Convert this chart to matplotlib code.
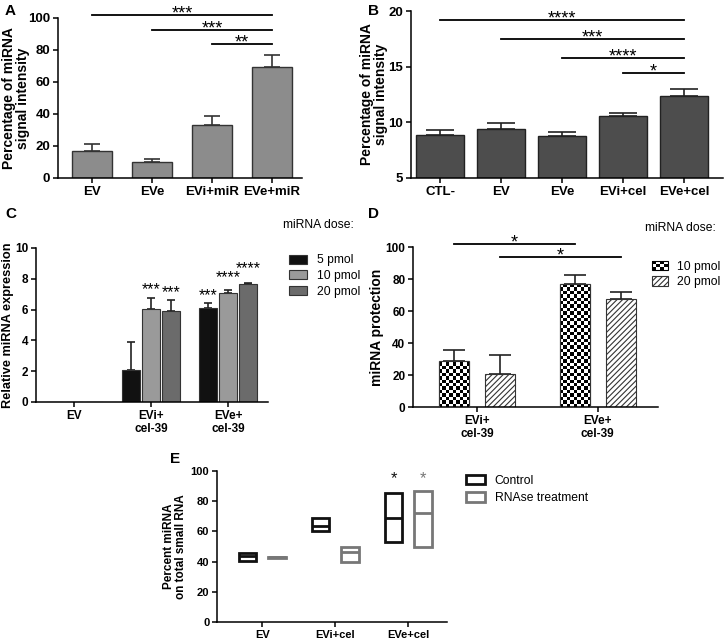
import matplotlib.pyplot as plt
import numpy as np
from matplotlib.patches import Rectangle
from matplotlib.legend_handler import HandlerBase

# panel A
a_labels = ["EV", "EVe", "EVi+miR", "EVe+miR"]
a_vals = [17, 10, 33, 69.5]
a_err = [4, 2, 5.5, 7.5]
a_sig = [(0, 3, 102, "***"), (1, 3, 92.5, "***"), (2, 3, 83.5, "**")]

# panel B
b_labels = ["CTL-", "EV", "EVe", "EVi+cel", "EVe+cel"]
b_vals = [8.9, 9.4, 8.75, 10.55, 12.35]
b_err = [0.4, 0.5, 0.35, 0.25, 0.6]
b_sig = [(0, 4, 19.2, "****"), (1, 4, 17.5, "***"), (2, 4, 15.8, "****"), (3, 4, 14.4, "*")]

# panel C
c_groups = ["EV", "EVi+\ncel-39", "EVe+\ncel-39"]
c_doses = ["5 pmol", "10 pmol", "20 pmol"]
c_vals = [[0, 0, 0], [2.1, 6.05, 5.9], [6.1, 7.1, 7.65]]
c_err = [[0, 0, 0], [1.8, 0.7, 0.75], [0.3, 0.2, 0.05]]
c_stars = [["", "", ""], ["", "***", "***"], ["***", "****", "****"]]
c_star_y = [[0, 0, 0], [0, 7.2, 7.05], [6.87, 8.0, 8.6]]

# panel D
d_groups = ["EVi+\ncel-39", "EVe+\ncel-39"]
d_doses = ["10 pmol", "20 pmol"]
d_vals = [[28.5, 20.5], [77, 67.5]]
d_err = [[7, 12], [5.5, 4.5]]
d_sig = [(0, 102, "*"), (1, 94, "*")]  # dose index, height, label

# panel E
e_groups = ["EV", "EVi+cel", "EVe+cel"]
e_series = ["Control", "RNAse treatment"]
e_min = [[40.5, 42.3], [60.5, 39.5], [53.2, 49.5]]
e_max = [[45.5, 43.3], [69.2, 49.8], [85.3, 87.0]]
e_mean = [[43.5, 42.8], [63.5, 46.2], [68.6, 71.9]]
e_stars = [["", ""], ["", ""], ["*", "*"]]

plt.rcParams['font.family'] = ['Liberation Sans', 'DejaVu Sans']
plt.rcParams['axes.linewidth'] = 1.1
plt.rcParams['hatch.linewidth'] = 0.8

W, H = 726, 639
fig = plt.figure(figsize=(W / 100, H / 100), dpi=100)


def px_axes(x0, y0, x1, y1):
    return fig.add_axes([x0 / W, 1 - y1 / H, (x1 - x0) / W, (y1 - y0) / H])


def style(ax, fs, ylabel, lab_fs, lab_x):
    ax.spines[["top", "right"]].set_visible(False)
    ax.tick_params(direction="out", length=3.5, width=1.1, labelsize=fs, pad=2)
    for t in ax.get_xticklabels() + ax.get_yticklabels():
        t.set_fontweight("bold")
    ax.set_ylabel(ylabel, fontsize=lab_fs, fontweight="bold", linespacing=1.0)
    ax.yaxis.set_label_coords(lab_x, 0.5)


def star(ax, x, y, label, fs=13, color="black"):
    ax.annotate(label, (x, y), xytext=(0, -2.5), textcoords="offset points", ha="center",
                va="baseline", fontsize=fs, color=color, annotation_clip=False)


def sig_line(ax, x0, x1, y, label, fs=13):
    ax.plot([x0, x1], [y, y], color="black", lw=1.3, clip_on=False)
    star(ax, (x0 + x1) / 2, y, label, fs)


def upper_err(ax, x, v, e, capsize, color="#222222"):
    x, v, e = np.asarray(x), np.asarray(v), np.asarray(e)
    keep = e > 0
    ax.errorbar(x[keep], v[keep], yerr=[np.zeros(keep.sum()), e[keep]], fmt="none",
                ecolor=color, elinewidth=1.2, capsize=capsize, capthick=1.2, zorder=1)


class CheckerHandler(HandlerBase):
    def create_artists(self, legend, orig_handle, xdescent, ydescent, width, height, fontsize, trans):
        arts = []
        nx, ny = 4, 3
        w, h = width / nx, height / ny
        for i in range(nx):
            for j in range(ny):
                if (i + j) % 2 == 0:
                    arts.append(Rectangle((-xdescent + i * w, -ydescent + j * h), w, h,
                                          facecolor="black", edgecolor="none", transform=trans))
        arts.append(Rectangle((-xdescent, -ydescent), width, height, facecolor="none",
                              edgecolor="black", lw=0.8, transform=trans))
        return arts


# ---------- A ----------
ax = px_axes(58, 18, 302, 178)
xa = np.arange(len(a_labels))
ax.bar(xa, a_vals, width=0.67, color="#8c8c8c", edgecolor="#333333", lw=1.0, zorder=2)
upper_err(ax, xa, a_vals, a_err, capsize=6, color="#333333")
for i0, i1, y, lab in a_sig:
    sig_line(ax, xa[i0], xa[i1], y, lab)
ax.set_xlim(-0.57, 3.5)
ax.set_ylim(0, 100)
ax.set_yticks([0, 20, 40, 60, 80, 100])
ax.set_xticks(xa, a_labels)
style(ax, 9.5, "Percentage of miRNA\nsignal intensity", 10, -0.115)
fig.text(5 / W, 1 - 4 / H, "A", fontsize=11, fontweight="bold", va="top")

# ---------- B ----------
ax = px_axes(411, 11, 723, 178)
xb = np.arange(len(b_labels))
ax.bar(xb, b_vals, width=0.79, color="#4d4d4d", edgecolor="#222222", lw=1.0, zorder=2)
upper_err(ax, xb, b_vals, b_err, capsize=10)
for i0, i1, y, lab in b_sig:
    sig_line(ax, xb[i0], xb[i1], y, lab)
ax.set_xlim(-0.48, 4.64)
ax.set_ylim(5, 20)
ax.set_yticks([5, 10, 15, 20])
ax.set_xticks(xb, b_labels)
style(ax, 9.5, "Percentage of miRNA\nsignal intensity", 10, -0.074)
fig.text(368 / W, 1 - 4 / H, "B", fontsize=11, fontweight="bold", va="top")

# ---------- C ----------
ax = px_axes(36, 248, 268, 402)
xc = np.arange(len(c_groups))
c_cols = ["#111111", "#9a9a9a", "#6b6b6b"]
offs = [-0.26, 0, 0.26]
cv = np.array(c_vals)
ce = np.array(c_err)
for k, dose in enumerate(c_doses):
    ax.bar(xc + offs[k], cv[:, k], width=0.23, color=c_cols[k], edgecolor="#333333",
           lw=0.8, label=dose, zorder=2)
    upper_err(ax, xc + offs[k], cv[:, k], ce[:, k], capsize=3)
    for g in range(len(c_groups)):
        if c_stars[g][k]:
            star(ax, xc[g] + offs[k], c_star_y[g][k], c_stars[g][k], fs=11.5)
ax.set_xlim(-0.5, 2.52)
ax.set_ylim(0, 10)
ax.set_yticks([0, 2, 4, 6, 8, 10])
ax.set_xticks(xc, c_groups)
style(ax, 8.5, "Relative miRNA expression", 9.2, -0.095)
ax.legend(loc="center left", bbox_to_anchor=(278 / W, 1 - 276 / H),
          bbox_transform=fig.transFigure, frameon=False, fontsize=8.7,
          handlelength=1.5, handleheight=0.8, labelspacing=0.3, handletextpad=0.8)
fig.text(283 / W, 1 - 225 / H, "miRNA dose:", fontsize=8.7, va="center")
fig.text(5 / W, 1 - 207 / H, "C", fontsize=11, fontweight="bold", va="top")

# ---------- D ----------
ax = px_axes(413, 247, 658, 407)
xd = np.arange(len(d_groups))
doff = [-0.19, 0.19]
dv = np.array(d_vals)
de = np.array(d_err)
px_x = 121.0
px_y = 1.6
cell = 3.4
bars10 = ax.bar(xd + doff[0], dv[:, 0], width=0.25, color="white", edgecolor="#333333",
                lw=0.8, zorder=2)
for b in bars10:
    x0 = b.get_x()
    cx, cy = cell / px_x, cell / px_y
    nx = int(np.ceil(b.get_width() / cx))
    ny = int(np.ceil(b.get_height() / cy))
    chk = (np.add.outer(np.arange(ny), np.arange(nx)) % 2).astype(float)
    im = ax.imshow(chk, cmap="gray", interpolation="nearest", aspect="auto",
                   extent=(x0, x0 + nx * cx, ny * cy, 0), zorder=2.5, vmin=0, vmax=1)
    im.set_clip_path(b)
    ax.add_patch(Rectangle((x0, 0), b.get_width(), b.get_height(), facecolor="none",
                           edgecolor="#333333", lw=0.8, zorder=3))
ax.bar(xd + doff[1], dv[:, 1], width=0.25, color="white", edgecolor="#333333", lw=0.8,
       hatch="//////", zorder=2)
for k in range(2):
    upper_err(ax, xd + doff[k], dv[:, k], de[:, k], capsize=8)
for k, y, lab in d_sig:
    sig_line(ax, xd[0] + doff[k], xd[1] + doff[k], y, lab)
ax.set_xlim(-0.53, 1.5)
ax.set_ylim(0, 100)
ax.set_yticks([0, 20, 40, 60, 80, 100])
ax.set_xticks(xd, d_groups)
style(ax, 8.5, "miRNA protection", 10, -0.12)
h_chk = Rectangle((0, 0), 1, 1)
h_hat = Rectangle((0, 0), 1, 1, facecolor="white", edgecolor="#333333", hatch="//////", lw=0.8)
ax.legend([h_chk, h_hat], d_doses, loc="center left",
          bbox_to_anchor=(641 / W, 1 - 274.5 / H), bbox_transform=fig.transFigure,
          frameon=False, fontsize=8.7, handlelength=1.3, handleheight=0.8,
          labelspacing=0.3, handletextpad=0.8, handler_map={h_chk: CheckerHandler()})
fig.text(645 / W, 1 - 228 / H, "miRNA dose:", fontsize=8.7, va="center")
fig.text(368 / W, 1 - 207 / H, "D", fontsize=11, fontweight="bold", va="top")

# ---------- E ----------
ax = px_axes(217, 471, 447, 622)
xe = np.arange(len(e_groups))
eoff = [-0.2, 0.2]
e_cols = ["#111111", "#777777"]
emin, emax, emean = np.array(e_min), np.array(e_max), np.array(e_mean)
for k, name in enumerate(e_series):
    ax.bar(xe + eoff[k], emax[:, k] - emin[:, k], bottom=emin[:, k], width=0.24,
           facecolor="white", edgecolor=e_cols[k], lw=2.0, zorder=2)
    ax.hlines(emean[:, k], xe + eoff[k] - 0.12, xe + eoff[k] + 0.12, color=e_cols[k],
              lw=2.0, zorder=3)
    for g in range(len(e_groups)):
        if e_stars[g][k]:
            star(ax, xe[g] + eoff[k], 94, e_stars[g][k], fs=12, color=e_cols[k])
ax.set_xlim(-0.62, 2.53)
ax.set_ylim(0, 100)
ax.set_yticks([0, 20, 40, 60, 80, 100])
ax.set_xticks(xe, e_groups)
style(ax, 8, "Percent miRNA\non total small RNA", 8.5, -0.13)
e_handles = [Rectangle((0, 0), 1, 1, facecolor="white", edgecolor=c, lw=2.0) for c in e_cols]
ax.legend(e_handles, e_series, loc="center left", bbox_to_anchor=(455 / W, 1 - 489.5 / H),
          bbox_transform=fig.transFigure, frameon=False, fontsize=8.7, handlelength=1.6,
          handleheight=0.8, labelspacing=0.45, handletextpad=0.8)
fig.text(170 / W, 1 - 452 / H, "E", fontsize=11, fontweight="bold", va="top")

fig.savefig("out.png", dpi=100)
